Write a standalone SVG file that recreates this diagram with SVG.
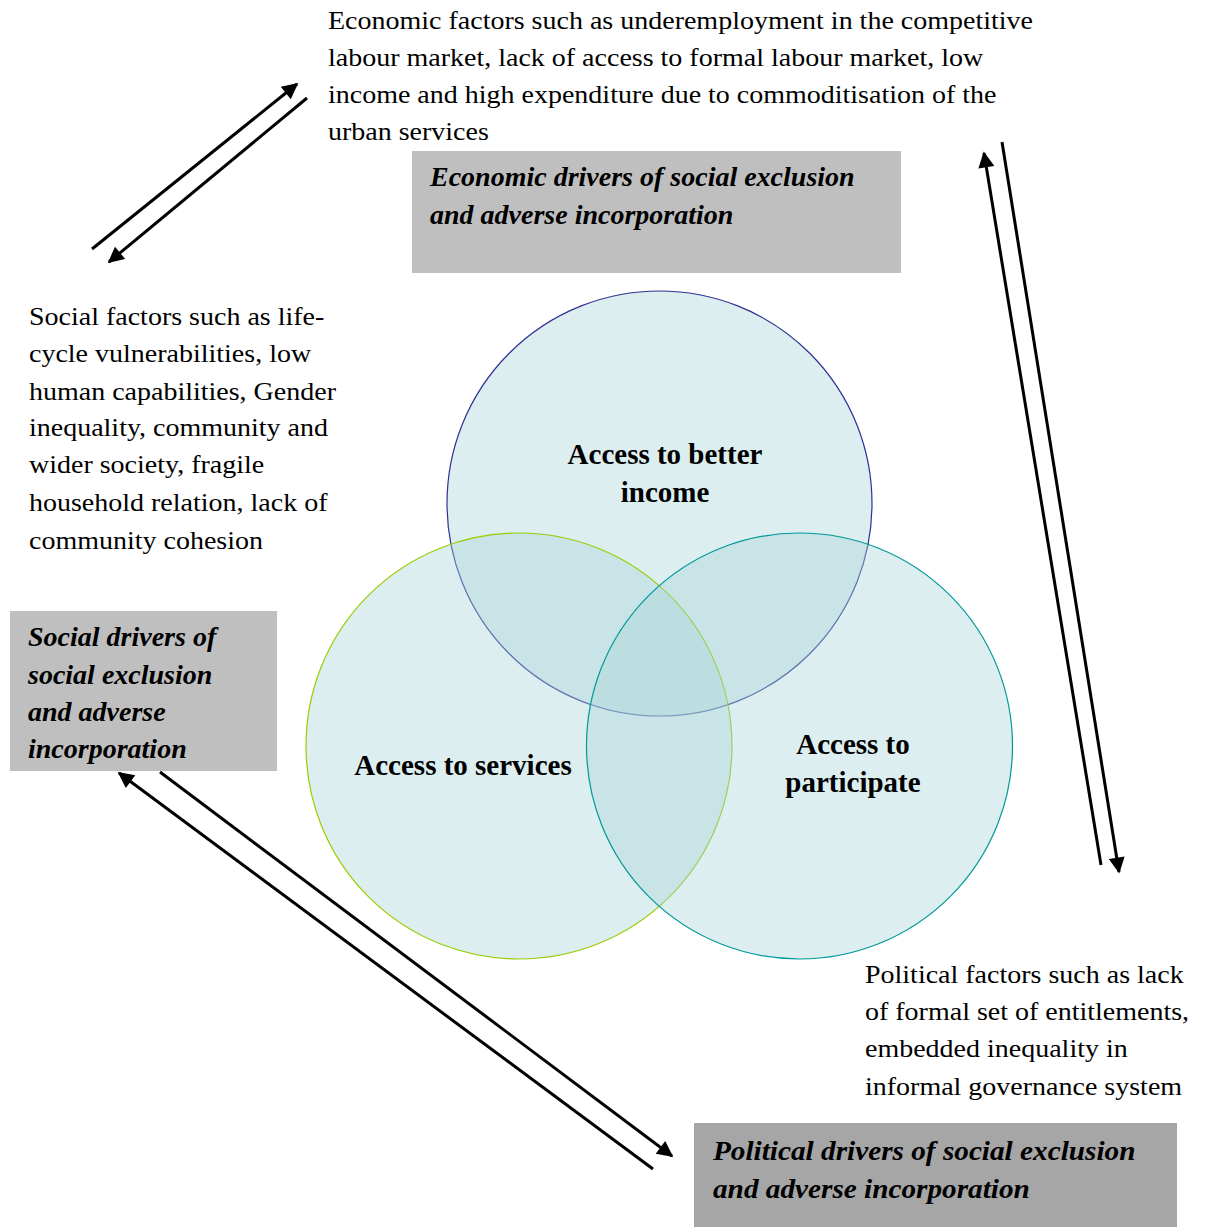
<svg xmlns="http://www.w3.org/2000/svg" width="1206" height="1227" viewBox="0 0 1206 1227">
  <style>
    .body { font-family: "Liberation Serif", "Times New Roman", serif; font-size: 25px; fill: #000; }
    .head { font-family: "Liberation Serif", "Times New Roman", serif; font-size: 28px; font-weight: bold; font-style: italic; fill: #000; }
    .lbl { font-family: "Liberation Serif", "Times New Roman", serif; font-size: 29px; font-weight: bold; fill: #000; text-anchor: middle; }
    .circ { fill: #aad4d9; fill-opacity: 0.4; stroke-width: 1.2; }
    .conn { stroke: #000; stroke-width: 3; fill: none; marker-end: url(#head); }
  </style>
  <defs>
    <marker id="head" viewBox="0 0 10 10" refX="9" refY="5" markerWidth="18" markerHeight="16" markerUnits="userSpaceOnUse" orient="auto">
      <path d="M0,0 L10,5 L0,10 z" fill="#000"/>
    </marker>
  </defs>
  <rect width="1206" height="1227" fill="#fff"/>

  <!-- Venn of access dimensions -->
  <g id="access-income">
    <circle class="circ" cx="659.5" cy="503.5" r="212.5" stroke="#2e3192"/>
  </g>
  <g id="access-services">
    <circle class="circ" cx="519" cy="746" r="213" stroke="#99cc00"/>
  </g>
  <g id="access-participate">
    <circle class="circ" cx="799.5" cy="746" r="213" stroke="#009999"/>
  </g>
  <g id="access-labels">
    <text class="lbl" x="665" y="464">Access to better</text>
    <text class="lbl" x="665" y="502">income</text>
    <text class="lbl" x="463" y="775">Access to services</text>
    <text class="lbl" x="853" y="754">Access to</text>
    <text class="lbl" x="853" y="792">participate</text>
  </g>

  <!-- Driver boxes -->
  <g id="economic-drivers">
    <rect x="412" y="151" width="489" height="122" fill="#bfbfbf"/>
    <text class="head" x="430" y="186">Economic drivers of social exclusion</text>
    <text class="head" x="430" y="224">and adverse incorporation</text>
  </g>
  <g id="social-drivers">
    <rect x="10" y="611" width="267" height="160" fill="#bfbfbf"/>
    <text class="head" x="28" y="646">Social drivers of</text>
    <text class="head" x="28" y="684">social exclusion</text>
    <text class="head" x="28" y="721">and adverse</text>
    <text class="head" x="28" y="758">incorporation</text>
  </g>
  <g id="political-drivers">
    <rect x="694" y="1123" width="483" height="104" fill="#a6a6a6"/>
    <g transform="translate(713,0) scale(1.045,1) translate(-713,0)">
      <text class="head" x="713" y="1160">Political drivers of social exclusion</text>
      <text class="head" x="713" y="1198">and adverse incorporation</text>
    </g>
  </g>

  <!-- Factor descriptions (wide-set body text) -->
  <g id="economic-factors" transform="translate(328,0) scale(1.12,1) translate(-328,0)">
    <text class="body" x="328" y="29">Economic factors such as underemployment in the competitive</text>
    <text class="body" x="328" y="66">labour market, lack of access to formal labour market, low</text>
    <text class="body" x="328" y="103">income and high expenditure due to commoditisation of the</text>
    <text class="body" x="328" y="140">urban services</text>
  </g>
  <g id="social-factors" transform="translate(29,0) scale(1.12,1) translate(-29,0)">
    <text class="body" x="29" y="325">Social factors such as life-</text>
    <text class="body" x="29" y="362">cycle vulnerabilities, low</text>
    <text class="body" x="29" y="400">human capabilities, Gender</text>
    <text class="body" x="29" y="436">inequality, community and</text>
    <text class="body" x="29" y="473">wider society, fragile</text>
    <text class="body" x="29" y="511">household relation, lack of</text>
    <text class="body" x="29" y="549">community cohesion</text>
  </g>
  <g id="political-factors" transform="translate(865,0) scale(1.12,1) translate(-865,0)">
    <text class="body" x="865" y="983">Political factors such as lack</text>
    <text class="body" x="865" y="1020">of formal set of entitlements,</text>
    <text class="body" x="865" y="1057">embedded inequality in</text>
    <text class="body" x="865" y="1095">informal governance system</text>
  </g>

  <!-- Two-way connectors -->
  <g id="connectors">
    <line class="conn" x1="92" y1="249" x2="297" y2="84"/>
    <line class="conn" x1="307" y1="98" x2="109" y2="262"/>
    <line class="conn" x1="1101" y1="865" x2="984" y2="153"/>
    <line class="conn" x1="1002" y1="142" x2="1119" y2="872"/>
    <line class="conn" x1="160" y1="772" x2="672" y2="1156"/>
    <line class="conn" x1="653" y1="1169" x2="119" y2="773"/>
  </g>
</svg>
